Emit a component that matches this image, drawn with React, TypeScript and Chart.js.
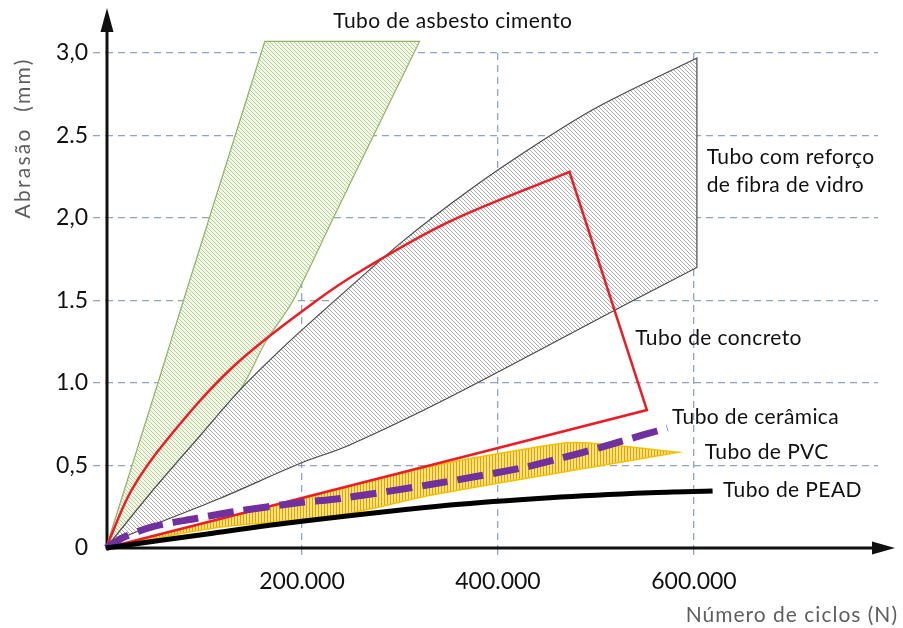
import { useEffect, useRef } from 'react';
import { Chart, registerables } from 'chart.js';

Chart.register(...registerables);

// ---------- axes ----------
const xTicks = [0, 200000, 400000, 600000];
const xTickLabels = ['', '200.000', '400.000', '600.000'];
const yTicks = [0, 0.5, 1, 1.5, 2, 2.5, 3];
const yTickLabels = ['0', '0,5', '1.0', '1.5', '2,0', '2.5', '3,0'];
const xTitle = 'Número de ciclos (N)';
const yTitle = 'Abrasão  (mm)';

// ---------- Tubo de asbesto cimento (region) ----------
const asbestoX = [0, 53000, 79000, 162000, 320000, 273000, 232000, 191000, 163000, 137000, 93000, 45000, 0];
const asbestoY = [0, 1.0, 1.5, 3.07, 3.07, 2.5, 2.0, 1.5, 1.25, 0.96, 0.66, 0.33, 0];
const asbestoCorners = [3, 4];

// ---------- Tubo com reforço de fibra de vidro (region) ----------
const fibraX = [0, 45000, 93000, 137000, 185000, 226000, 303000, 371000, 443000, 504000, 603000, 603000, 538000, 351000, 247000, 199000, 116000, 24000, 0];
const fibraY = [0, 0.33, 0.66, 0.96, 1.24, 1.46, 1.86, 2.17, 2.46, 2.68, 2.97, 1.7, 1.5, 0.915, 0.62, 0.515, 0.3, 0.08, 0];
const fibraCorners = [10, 11];

// ---------- Tubo de concreto (line) ----------
const concretoX = [0, 26000, 62000, 130000, 215000, 266000, 351000, 473000, 552000, 0];
const concretoY = [0, 0.35, 0.655, 1.1, 1.5, 1.7, 1.98, 2.28, 0.836, 0];
const concretoCorners = [7, 8];

// ---------- Tubo de PVC (region) ----------
const pvcX = [0, 120000, 239000, 331000, 433000, 481000, 584000, 525000, 331000, 239000, 109000, 0];
const pvcY = [0, 0.18, 0.36, 0.495, 0.605, 0.64, 0.58, 0.52, 0.32, 0.2, 0.12, 0];
const pvcCorners = [6];

// ---------- Tubo de cerâmica (dashed line) ----------
const ceramicaX = [0, 18000, 48000, 93000, 130000, 198000, 239000, 331000, 424000, 465000, 505000, 548000, 573000];
const ceramicaY = [0, 0.065, 0.13, 0.18, 0.22, 0.275, 0.3, 0.385, 0.485, 0.545, 0.61, 0.685, 0.727];

// ---------- Tubo de PEAD (line) ----------
const peadX = [0, 109000, 198000, 351000, 453000, 555000, 619000];
const peadY = [0, 0.09, 0.16, 0.26, 0.305, 0.335, 0.345];

// ---------- annotation texts (anchored in data space) ----------
const labelTexts = ['Tubo de asbesto cimento', 'Tubo com reforço', 'de fibra de vidro', 'Tubo de concreto', 'Tubo de cerâmica', 'Tubo de PVC', 'Tubo de PEAD'];
const labelX = [232000, 613000, 613000, 540000, 577500, 611000, 629600];
const labelY = [3.19, 2.37, 2.2, 1.27, 0.794, 0.582, 0.352];

// build {x,y} points; corner vertices are doubled so the smoothed outline keeps a sharp angle there
const pts = (xs: number[], ys: number[], corners: number[] = []) => {
  const out: { x: number; y: number }[] = [];
  xs.forEach((x, i) => {
    out.push({ x, y: ys[i] });
    if (corners.includes(i)) out.push({ x, y: ys[i] });
  });
  return out;
};

function diagPattern(ctx: CanvasRenderingContext2D, bg: string, fg: string, size: number, lw: number) {
  const c = document.createElement('canvas');
  c.width = size;
  c.height = size;
  const g = c.getContext('2d')!;
  g.fillStyle = bg;
  g.fillRect(0, 0, size, size);
  g.strokeStyle = fg;
  g.lineWidth = lw;
  g.beginPath();
  for (const o of [-size, 0, size]) {
    g.moveTo(o, 0);
    g.lineTo(o + size, size);
  }
  g.stroke();
  return ctx.createPattern(c, 'repeat')!;
}

function vertPattern(ctx: CanvasRenderingContext2D, bg: string, fg: string, size: number, lw: number) {
  const c = document.createElement('canvas');
  c.width = size;
  c.height = size;
  const g = c.getContext('2d')!;
  g.fillStyle = bg;
  g.fillRect(0, 0, size, size);
  g.strokeStyle = fg;
  g.lineWidth = lw;
  g.beginPath();
  g.moveTo(0.5, 0);
  g.lineTo(0.5, size);
  g.stroke();
  return ctx.createPattern(c, 'repeat')!;
}

const polyFillPlugin = {
  id: 'polyFill',
  beforeDatasetDraw(chart: any, args: any) {
    const ds = chart.data.datasets[args.index];
    if (!ds.polyFill) return;
    const line = args.meta.dataset;
    const els = args.meta.data;
    const ctx = chart.ctx as CanvasRenderingContext2D;
    ctx.save();
    ctx.beginPath();
    if (line && typeof line.path === 'function') {
      if (typeof line.updateControlPoints === 'function') line.updateControlPoints(chart.chartArea, 'x');
      line.path(ctx);
    } else {
      els.forEach((p: any, i: number) => (i ? ctx.lineTo(p.x, p.y) : ctx.moveTo(p.x, p.y)));
    }
    ctx.closePath();
    ctx.fillStyle = ds.polyFill;
    ctx.fill();
    ctx.restore();
  },
};

const decorPlugin = {
  id: 'decor',
  beforeDatasetsDraw(chart: any) {
    const ctx = chart.ctx as CanvasRenderingContext2D;
    const { left, right, top, bottom } = chart.chartArea;
    ctx.save();
    ctx.strokeStyle = '#111';
    ctx.fillStyle = '#111';
    ctx.lineWidth = 3;
    ctx.beginPath();
    ctx.moveTo(left + 1, bottom + 1);
    ctx.lineTo(left + 1, top - 25);
    ctx.stroke();
    ctx.beginPath();
    ctx.moveTo(left + 1, top - 45);
    ctx.lineTo(left - 5.5, top - 21);
    ctx.lineTo(left + 7.5, top - 21);
    ctx.closePath();
    ctx.fill();
    ctx.beginPath();
    ctx.moveTo(left, bottom);
    ctx.lineTo(right, bottom);
    ctx.stroke();
    ctx.beginPath();
    ctx.moveTo(right + 17, bottom);
    ctx.lineTo(right - 6, bottom - 6.5);
    ctx.lineTo(right - 6, bottom + 6.5);
    ctx.closePath();
    ctx.fill();
    ctx.restore();
  },
  afterDatasetsDraw(chart: any) {
    const ctx = chart.ctx as CanvasRenderingContext2D;
    const xs = chart.scales.x;
    const ys = chart.scales.y;
    const { right, bottom } = chart.chartArea;
    ctx.save();
    ctx.fillStyle = '#111';
    ctx.font = '21px Lato';
    (ctx as any).letterSpacing = '0.4px';
    ctx.textAlign = 'left';
    ctx.textBaseline = 'middle';
    labelTexts.forEach((t, i) => {
      ctx.fillText(t, xs.getPixelForValue(labelX[i]), ys.getPixelForValue(labelY[i]));
    });
    ctx.fillStyle = '#5e5e5e';
    ctx.font = '21px Lato';
    (ctx as any).letterSpacing = '1px';
    ctx.textAlign = 'right';
    ctx.fillText(xTitle, right + 20, bottom + 67);
    ctx.translate(23, 138);
    ctx.rotate(-Math.PI / 2);
    ctx.textAlign = 'center';
    (ctx as any).letterSpacing = '2.3px';
    ctx.fillText(yTitle, 0, 0);
    ctx.restore();
  },
};

export default function App() {
  const ref = useRef<HTMLCanvasElement>(null);

  useEffect(() => {
    document.body.style.margin = '0';
    const canvas = ref.current!;
    const ctx = canvas.getContext('2d')!;
    const green = diagPattern(ctx, '#f2f7ea', '#b6cf92', 4, 1);
    const gray = diagPattern(ctx, '#ffffff', '#a2a2a2', 4, 0.9);
    const yellow = vertPattern(ctx, '#ffe17a', '#d9a40c', 3, 1);
    const gridColor = 'rgba(125,148,185,0.85)';
    const common = { showLine: true, pointRadius: 0, clip: false, capBezierPoints: false };

    const chart = new Chart(canvas, {
      type: 'scatter',
      data: {
        datasets: [
          { ...common, label: 'Tubo de PEAD', data: pts(peadX, peadY), borderColor: '#000', borderWidth: 5, tension: 0.3 },
          {
            ...common,
            label: 'Tubo de cerâmica',
            data: pts(ceramicaX, ceramicaY),
            borderColor: '#7030a0',
            borderWidth: 7,
            borderDash: [26, 10],
            borderCapStyle: 'butt',
            tension: 0.3,
          },
          {
            ...common,
            label: 'Tubo de concreto',
            data: pts(concretoX, concretoY, concretoCorners),
            borderColor: '#ec1c24',
            borderWidth: 2.5,
            tension: 0.35,
          },
          {
            ...common,
            label: 'Tubo de PVC',
            data: pts(pvcX, pvcY, pvcCorners),
            borderColor: '#f5c000',
            borderWidth: 1.5,
            tension: 0.3,
            polyFill: yellow,
          },
          {
            ...common,
            label: 'Tubo com reforço de fibra de vidro',
            data: pts(fibraX, fibraY, fibraCorners),
            borderColor: '#4a4a4a',
            borderWidth: 1.2,
            tension: 0.3,
            polyFill: gray,
          },
          {
            ...common,
            label: 'Tubo de asbesto cimento',
            data: pts(asbestoX, asbestoY, asbestoCorners),
            borderColor: '#93b364',
            borderWidth: 1.2,
            tension: 0.3,
            polyFill: green,
          },
        ] as any,
      },
      options: {
        responsive: false,
        animation: false,
        events: [],
        layout: { padding: { top: 53, right: 25, left: 0, bottom: 0 } },
        plugins: { legend: { display: false }, tooltip: { enabled: false } },
        scales: {
          x: {
            type: 'linear',
            min: 0,
            max: 787800,
            afterBuildTicks: (s: any) => {
              s.ticks = xTicks.map((v) => ({ value: v }));
            },
            afterFit: (s: any) => {
              s.height = 80;
            },
            ticks: {
              autoSkip: false,
              maxRotation: 0,
              padding: 11,
              color: '#111',
              font: { family: 'Lato', size: 23 },
              callback: (_v: any, i: number) => xTickLabels[i],
            },
            grid: {
              color: (c: any) => (c.tick && c.tick.value === 0 ? 'rgba(0,0,0,0)' : gridColor),
              tickColor: (c: any) => (c.tick && c.tick.value === 0 ? 'rgba(0,0,0,0)' : gridColor),
              lineWidth: 1.3,
              tickWidth: 1.3,
              tickLength: 9,
              tickBorderDash: [7, 5],
            },
            border: { display: false, dash: [7, 5] },
          },
          y: {
            type: 'linear',
            min: 0,
            max: 3,
            afterBuildTicks: (s: any) => {
              s.ticks = yTicks.map((v) => ({ value: v }));
            },
            afterFit: (s: any) => {
              s.width = 106;
            },
            ticks: {
              autoSkip: false,
              padding: 5,
              color: '#111',
              font: { family: 'Lato', size: 23 },
              callback: (_v: any, i: number) => yTickLabels[i],
            },
            grid: {
              color: (c: any) => (c.tick && c.tick.value === 0 ? 'rgba(0,0,0,0)' : gridColor),
              tickColor: (c: any) => (c.tick && c.tick.value === 0 ? 'rgba(0,0,0,0)' : gridColor),
              lineWidth: 1.3,
              tickWidth: 1.3,
              tickLength: 13,
              tickBorderDash: [7, 5],
            },
            border: { display: false, dash: [7, 5] },
          },
        },
      },
      plugins: [polyFillPlugin, decorPlugin],
    });
    return () => chart.destroy();
  }, []);

  return <canvas ref={ref} width={903} height={628} style={{ display: 'block', width: 903, height: 628 }} />;
}
